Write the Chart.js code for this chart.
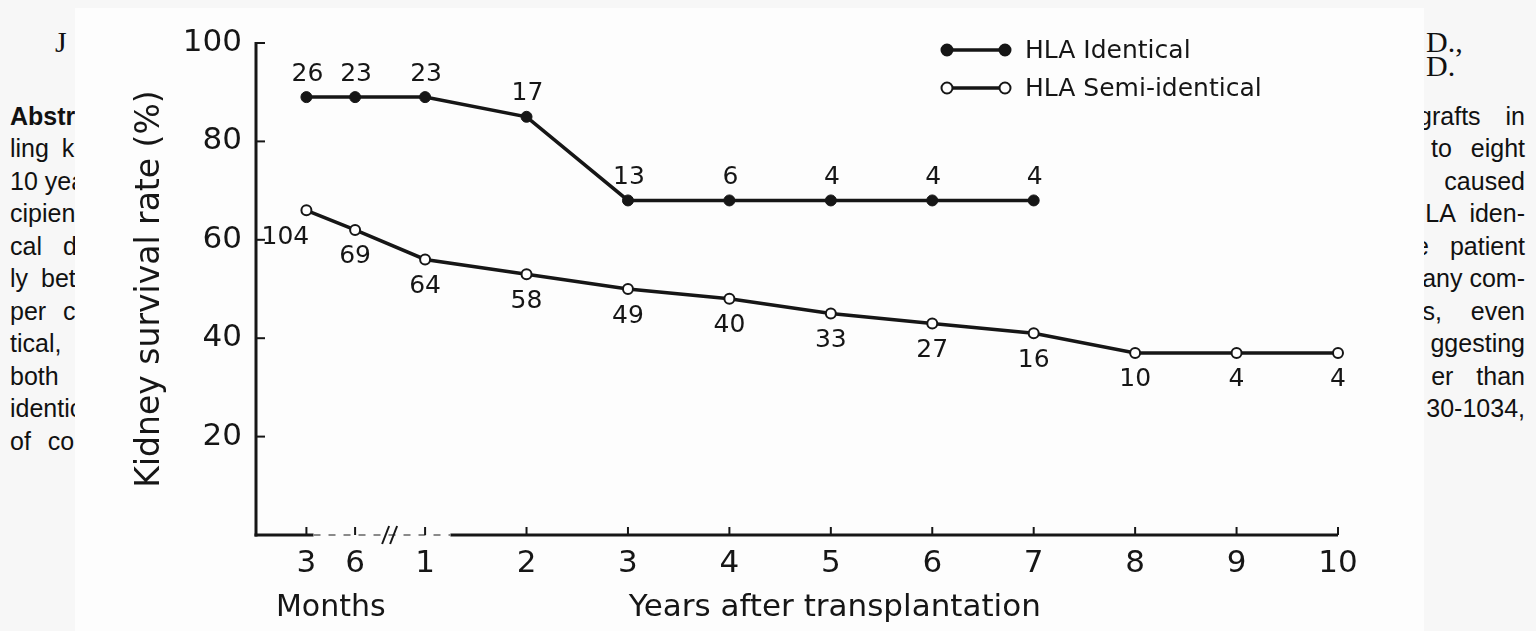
<!DOCTYPE html>
<html>
<head>
<meta charset="utf-8">
<script src="https://cdn.jsdelivr.net/npm/chart.js@4.4.0/dist/chart.umd.min.js"></script>
<style>
  html, body { margin: 0; padding: 0; background: #f7f7f7; width: 1536px; height: 631px; overflow: hidden; }
  .col { position: absolute; font-family: 'Liberation Sans', Arial, sans-serif; font-size: 25px; color: #111; white-space: nowrap; line-height: 1; }
  .serif { position: absolute; font-family: 'Liberation Serif', serif; font-size: 30px; color: #111; line-height: 1; }
  #box { position: absolute; left: 75px; top: 8px; width: 1349px; height: 623px; background: #fdfdfd; }
  #chart { position: absolute; left: 0; top: 0; }
</style>
</head>
<body>
<!-- page text around the figure -->
<div class="serif" style="left:55px; top:27px">J</div>
<div class="serif" style="left:1426px; top:27px">D.,</div>
<div class="serif" style="left:1426px; top:51px">D.</div>

<div class="col" style="left:10px; top:104px; font-weight:bold">Abstract</div>
<div class="col" style="left:10px; top:136px; word-spacing:6px">ling kidney</div>
<div class="col" style="left:10px; top:169px">10 years</div>
<div class="col" style="left:10px; top:201px">cipients</div>
<div class="col" style="left:10px; top:234px; word-spacing:14px">cal donors</div>
<div class="col" style="left:10px; top:266px; word-spacing:6px">ly between</div>
<div class="col" style="left:10px; top:299px; word-spacing:10px">per cent</div>
<div class="col" style="left:10px; top:331px; word-spacing:12px">tical, and</div>
<div class="col" style="left:10px; top:364px; word-spacing:14px">both groups</div>
<div class="col" style="left:10px; top:396px">identical</div>
<div class="col" style="left:10px; top:429px; word-spacing:10px">of course</div>

<div class="col" style="right:11px; top:104px; word-spacing:18px">allografts in</div>
<div class="col" style="right:11px; top:136px; word-spacing:12px">up to eight</div>
<div class="col" style="right:11px; top:169px; word-spacing:16px">was caused</div>
<div class="col" style="right:11px; top:201px; word-spacing:8px">HLA iden-</div>
<div class="col" style="right:11px; top:234px; word-spacing:14px">one patient</div>
<div class="col" style="right:11px; top:266px">many com-</div>
<div class="col" style="right:11px; top:299px; word-spacing:22px">years, even</div>
<div class="col" style="right:11px; top:331px">ggesting</div>
<div class="col" style="right:11px; top:364px; word-spacing:16px">er than</div>
<div class="col" style="right:11px; top:396px">30-1034,</div>

<div id="box"></div>
<canvas id="chart" width="1536" height="631"></canvas>

<script>
// x axis: months 3, 6 then years 1..10 (axis is broken after 6 months)
const tickLabels = ['3', '6', '1', '2', '3', '4', '5', '6', '7', '8', '9', '10'];
const tickPos = [-0.17, 0.31, 1, 2, 3, 4, 5, 6, 7, 8, 9, 10];
const yTicks = [20, 40, 60, 80, 100];

// survival rate (%) and number of patients at each time point
const identicalRate = [89, 89, 89, 85, 68, 68, 68, 68, 68];
const identicalN = [26, 23, 23, 17, 13, 6, 4, 4, 4];
const semiRate = [66, 62, 56, 53, 50, 48, 45, 43, 41, 37, 37, 37];
const semiN = [104, 69, 64, 58, 49, 40, 33, 27, 16, 10, 4, 4];

const ink = '#161616';
const sans = "'DejaVu Sans', sans-serif";

function seg(ctx, ax, ay, bx, by) {
  ctx.beginPath();
  ctx.moveTo(ax, ay);
  ctx.lineTo(bx, by);
  ctx.stroke();
}

const paperPlugin = {
  id: 'paper',
  beforeDatasetsDraw(chart) {
    const ctx = chart.ctx;
    const xs = chart.scales.x, ys = chart.scales.y;
    const x0 = xs.left, x1 = xs.right;
    const y0 = ys.getPixelForValue(0), yTop = ys.getPixelForValue(100);
    ctx.save();
    ctx.strokeStyle = ink;
    ctx.lineCap = 'butt';

    // axes
    ctx.lineWidth = 3;
    seg(ctx, x0, yTop - 1, x0, y0 + 1.5);
    const brkA = xs.getPixelForValue(-0.1);
    const brkB = xs.getPixelForValue(1.25);
    seg(ctx, x0 - 1.5, y0, brkA, y0);
    seg(ctx, brkB, y0, x1, y0);
    ctx.save();
    ctx.strokeStyle = '#8a8a8a';
    ctx.lineWidth = 2;
    ctx.setLineDash([7, 8]);
    seg(ctx, brkA, y0, brkB, y0);
    ctx.restore();

    // tick marks (inside)
    ctx.lineWidth = 2;
    yTicks.forEach(v => {
      const py = ys.getPixelForValue(v);
      seg(ctx, x0, py, x0 + 9, py);
    });
    tickPos.forEach(v => {
      const px = xs.getPixelForValue(v);
      seg(ctx, px, y0, px, y0 - 8);
    });

    // break mark
    const xb = xs.getPixelForValue((tickPos[1] + tickPos[2]) / 2);
    ctx.lineWidth = 2;
    seg(ctx, xb - 8, y0 + 9, xb - 1, y0 - 9);
    seg(ctx, xb, y0 + 9, xb + 7, y0 - 9);

    // axis titles
    ctx.fillStyle = ink;
    ctx.textAlign = 'center';
    ctx.textBaseline = 'middle';
    ctx.font = '33px ' + sans;
    ctx.save();
    ctx.translate(x0 - 106, (yTop + y0) / 2);
    ctx.rotate(-Math.PI / 2);
    ctx.fillText('Kidney survival rate (%)', 0, 0);
    ctx.restore();
    ctx.font = '30px ' + sans;
    const mx = (xs.getPixelForValue(tickPos[0]) + xs.getPixelForValue(tickPos[1])) / 2;
    ctx.fillText('Months', mx, 608);
    ctx.font = '31px ' + sans;
    ctx.fillText('Years after transplantation', xs.getPixelForValue(5) + 4, 608);
    ctx.restore();
  },
  afterDatasetsDraw(chart) {
    const ctx = chart.ctx;
    ctx.save();
    ctx.fillStyle = ink;
    ctx.font = '25px ' + sans;
    ctx.textAlign = 'center';
    ctx.textBaseline = 'middle';

    chart.getDatasetMeta(0).data.forEach((pt, i) => {
      ctx.fillText(String(identicalN[i]), pt.x + 1, pt.y - 23);
    });
    chart.getDatasetMeta(1).data.forEach((pt, i) => {
      const dx = i === 0 ? -21 : 0;
      ctx.fillText(String(semiN[i]), pt.x + dx, pt.y + 27);
    });

    // legend
    const items = [
      { y: 50, text: 'HLA Identical', fill: ink },
      { y: 88, text: 'HLA Semi-identical', fill: '#ffffff' }
    ];
    ctx.textAlign = 'left';
    ctx.font = '25px ' + sans;
    items.forEach(it => {
      ctx.strokeStyle = ink;
      ctx.lineWidth = 3.5;
      seg(ctx, 947, it.y, 1005, it.y);
      [947, 1005].forEach(cx => {
        ctx.beginPath();
        ctx.arc(cx, it.y, 5.5, 0, Math.PI * 2);
        ctx.fillStyle = it.fill;
        ctx.fill();
        ctx.lineWidth = 2;
        ctx.stroke();
      });
      ctx.fillStyle = ink;
      ctx.fillText(it.text, 1025, it.y + 1);
    });
    ctx.restore();
  }
};

new Chart(document.getElementById('chart'), {
  type: 'line',
  data: {
    datasets: [
      {
        label: 'HLA Identical',
        data: identicalRate.map((v, i) => ({ x: tickPos[i], y: v })),
        borderColor: ink,
        borderWidth: 3.5,
        pointRadius: 5.5,
        pointBackgroundColor: ink,
        pointBorderColor: ink,
        pointBorderWidth: 1,
        tension: 0,
        clip: false
      },
      {
        label: 'HLA Semi-identical',
        data: semiRate.map((v, i) => ({ x: tickPos[i], y: v })),
        borderColor: ink,
        borderWidth: 3.5,
        pointRadius: 5,
        pointBackgroundColor: '#ffffff',
        pointBorderColor: ink,
        pointBorderWidth: 2,
        tension: 0,
        clip: false
      }
    ]
  },
  options: {
    responsive: false,
    animation: false,
    devicePixelRatio: 1,
    layout: { padding: { top: 43, right: 198, left: 0, bottom: 0 } },
    plugins: {
      legend: { display: false },
      tooltip: { enabled: false }
    },
    scales: {
      x: {
        type: 'linear',
        min: -0.667,
        max: 10,
        afterBuildTicks: s => { s.ticks = tickPos.map(v => ({ value: v })); },
        afterFit: s => { s.height = 96; },
        grid: { display: false, drawTicks: false },
        border: { display: false },
        ticks: {
          autoSkip: false,
          maxRotation: 0,
          padding: 10,
          color: ink,
          font: { family: sans, size: 31 },
          callback: (v, i) => tickLabels[i]
        }
      },
      y: {
        min: 0,
        max: 100,
        afterBuildTicks: s => { s.ticks = yTicks.map(v => ({ value: v })); },
        afterFit: s => { s.width = 256; },
        grid: { display: false, drawTicks: false },
        border: { display: false },
        ticks: {
          padding: 14,
          color: ink,
          font: { family: sans, size: 31 }
        }
      }
    }
  },
  plugins: [paperPlugin]
});
</script>
</body>
</html>
